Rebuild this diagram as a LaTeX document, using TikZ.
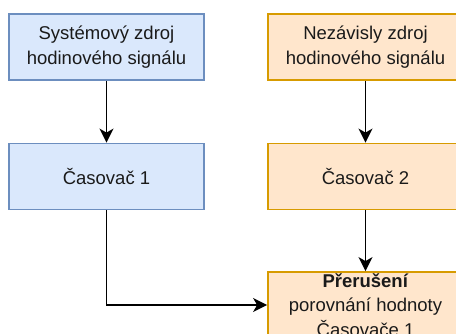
\documentclass[tikz,border=0pt]{standalone}
\usepackage{fontspec}
\setmainfont{Liberation Sans}
\usetikzlibrary{arrows.meta}
\definecolor{bluefill}{HTML}{DAE8FC}
\definecolor{bluedraw}{HTML}{6C8EBF}
\definecolor{orangefill}{HTML}{FFE6CC}
\definecolor{orangedraw}{HTML}{D79B00}
\definecolor{txt}{HTML}{1A1A1A}
\tikzset{
  box/.style={draw, line width=1.8pt, minimum width=195pt, minimum height=66pt,
    inner sep=0pt, align=center, text=txt, font=\fontsize{18.5}{24.5}\selectfont},
  bluebox/.style={box, fill=bluefill, draw=bluedraw},
  orangebox/.style={box, fill=orangefill, draw=orangedraw},
  link/.style={line width=1.8pt, -{Stealth[length=14pt,width=14pt,inset=4pt]}}
}
\begin{document}
\begin{tikzpicture}[x=1pt,y=-1pt]
  \useasboundingbox (0,0) rectangle (456,334);
  \begin{scope}
    \clip (0,0) rectangle (456,334);
    \node[bluebox] (src1) at (106.5,47) {Systémový zdroj\\hodinového signálu};
    \node[orangebox] (src2) at (365.5,47) {Nezávisly zdroj\\hodinového signálu};
    \node[bluebox] (tim1) at (106.5,176.5) {Časovač 1};
    \node[orangebox] (tim2) at (365.5,176.5) {Časovač 2};
    \node[orangebox] (irq) at (365.5,305) {\textbf{Přerušení}\\porovnání hodnoty\\Časovače 1};
    \draw[link] (src1) -- (tim1);
    \draw[link] (src2) -- (tim2);
    \draw[link] (tim2) -- (irq);
    \draw[link] (tim1.south) |- (irq.west);
  \end{scope}
\end{tikzpicture}
\end{document}
